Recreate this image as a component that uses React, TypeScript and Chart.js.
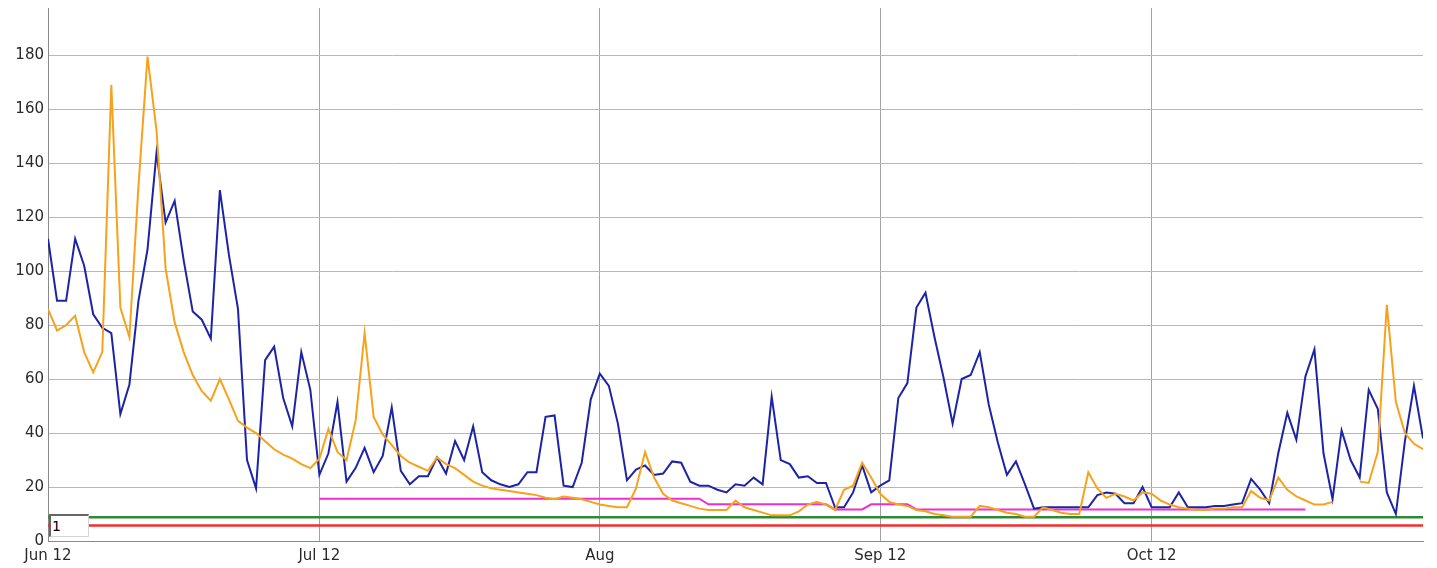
import React, { useEffect, useRef } from "react";
import { Chart, registerables } from "chart.js";

Chart.register(...registerables);

// x positions are day indices starting at Jun 12 (one point per day)
const xTickPositions = [0, 30, 61, 92, 122];
const xTickLabels = ["Jun 12", "Jul 12", "Aug", "Sep 12", "Oct 12"];
const yTickValues = [0, 20, 40, 60, 80, 100, 120, 140, 160, 180];

const blueSeries = [
  112, 89, 89, 112, 102, 84, 79, 77, 47, 58,
  89, 108, 144, 118, 126, 104, 85, 82, 75, 130,
  106, 86, 30, 19.5, 67, 72, 53, 42.5, 70, 56,
  24.5, 32.5, 51.5, 22, 27, 34.5, 25.5, 31.5, 49.5, 26,
  21, 24, 24, 31, 25, 37, 30, 42.5, 25.5, 22.5,
  21, 20, 21, 25.5, 25.5, 46, 46.5, 20.5, 20, 29,
  52.5, 62, 57.5, 43.5, 22.5, 26.5, 28, 24.5, 25, 29.5,
  29, 22, 20.5, 20.5, 19, 18, 21, 20.5, 23.5, 21,
  53.5, 30, 28.5, 23.5, 24, 21.5, 21.5, 12.5, 12.5, 18,
  28, 18, 20.5, 22.5, 53, 58.5, 86.5, 92, 75.5, 60.5,
  43.5, 60, 61.5, 70, 50.5, 36.5, 24.5, 29.5, 21, 12,
  12.5, 12.5, 12.5, 12.5, 12.5, 12.5, 17, 18, 17.5, 14,
  14, 20, 12.5, 12.5, 12.5, 18, 12.5, 12.5, 12.5, 13,
  13, 13.5, 14, 23, 19, 14, 32.5, 47.5, 37.5, 61,
  71, 32.5, 15.5, 41, 30, 23.5, 56, 49, 18, 10,
  37, 57.5, 38,
];

const orangeSeries: (number | null)[] = [
  86, 78, 80, 83.5, 70, 62.5, 70, 169, 86.5, 75.5,
  131.5, 179.5, 152, 101, 81, 70, 61.5, 55.5, 52, 60,
  52.5, 44.5, 42, 40, 37, 34, 32, 30.5, 28.5, 27,
  30.5, 41.5, 33, 30, 44.5, 77, 46, 39.5, 35.5, 31.5,
  29, 27.5, 26, 31, 28.5, 27, 24.5, 22, 20.5, 19.5,
  19, 18.5, 18, 17.5, 17, 16, 15.5, 16.5, 16, 15.5,
  14.5, 13.5, 13, 12.5, 12.5, 19.5, 33, 23.5, 17.5, 15,
  14, 13, 12, 11.5, 11.5, 11.5, 15, 12.5, 11.5, 10.5,
  9.5, 9.5, 9.5, 11, 13.5, 14.5, 13.5, 11.5, 19, 20.5,
  29, 23.5, 17.5, 14.5, 13.5, 13, 11.5, 11, 10, 9.5,
  9, 9, 9, 13, 12.5, 11.5, 10.5, 10, 9, 9,
  12.5, 11.5, 10.5, 10, 10, 25.5, 19.5, 16, 17.5, 16.5,
  15, 18, 17.5, 15, 13.5, 12.5, 12, 11.5, 11.5, 12,
  12, 12.5, 12.5, 18.5, 16, 15, 23.5, 19, 16.5, 15,
  13.5, 13.5, 14.5, null, null, 22, 21.5, 33, 87.5, 51.5,
  40, 36, 34,
];

// step-wise average line (null where not drawn)
const magentaSeries: (number | null)[] = [
  null, null, null, null, null, null, null, null, null, null,
  null, null, null, null, null, null, null, null, null, null,
  null, null, null, null, null, null, null, null, null, null,
  15.7, 15.7, 15.7, 15.7, 15.7, 15.7, 15.7, 15.7, 15.7, 15.7,
  15.7, 15.7, 15.7, 15.7, 15.7, 15.7, 15.7, 15.7, 15.7, 15.7,
  15.7, 15.7, 15.7, 15.7, 15.7, 15.7, 15.7, 15.7, 15.7, 15.7,
  15.7, 15.7, 15.7, 15.7, 15.7, 15.7, 15.7, 15.7, 15.7, 15.7,
  15.7, 15.7, 15.7, 13.6, 13.6, 13.6, 13.6, 13.6, 13.6, 13.6,
  13.6, 13.6, 13.6, 13.6, 13.6, 13.6, 13.6, 11.7, 11.7, 11.7,
  11.7, 13.6, 13.6, 13.6, 13.6, 13.6, 11.7, 11.7, 11.7, 11.7,
  11.7, 11.7, 11.7, 11.7, 11.7, 11.7, 11.7, 11.7, 11.7, 11.7,
  11.7, 11.7, 11.7, 11.7, 11.7, 11.7, 11.7, 11.7, 11.7, 11.7,
  11.7, 11.7, 11.7, 11.7, 11.7, 11.7, 11.7, 11.7, 11.7, 11.7,
  11.7, 11.7, 11.7, 11.7, 11.7, 11.7, 11.7, 11.7, 11.7, 11.7,
  null, null, null, null, null, null, null, null, null, null,
  null, null, null,
];

const greenLevel = 8.8;
const redLevel = 5.7;

const toPoints = (arr: (number | null)[]) => arr.map((y, i) => ({ x: i, y }));
const constant = (v: number) => blueSeries.map((_, i) => ({ x: i, y: v }));

export default function App() {
  const ref = useRef<HTMLCanvasElement | null>(null);

  useEffect(() => {
    if (!ref.current) return;
    const font = { family: "'DejaVu Sans', Verdana, sans-serif", size: 15 };
    const chart = new Chart(ref.current, {
      type: "line",
      data: {
        datasets: [
          { label: "orange", data: toPoints(orangeSeries), borderColor: "#f7a21b", borderWidth: 2 },
          { label: "blue", data: toPoints(blueSeries), borderColor: "#1c24a6", borderWidth: 2 },
          { label: "magenta", data: toPoints(magentaSeries), borderColor: "#ee2fd0", borderWidth: 2 },
          { label: "green", data: constant(greenLevel), borderColor: "#2f8a35", borderWidth: 2.5 },
          { label: "red", data: constant(redLevel), borderColor: "#f52c2c", borderWidth: 2.5 },
        ] as any,
      },
      options: {
        animation: false,
        responsive: false,
        parsing: false as any,
        elements: { point: { radius: 0, hoverRadius: 0 }, line: { tension: 0, fill: false } },
        layout: { padding: { top: 8, right: 14, left: 0, bottom: 0 } },
        plugins: { legend: { display: false }, tooltip: { enabled: false }, title: { display: false } },
        events: [],
        scales: {
          x: {
            type: "linear",
            min: 0,
            max: blueSeries.length - 1,
            afterBuildTicks: (s: any) => {
              s.ticks = xTickPositions.map((v) => ({ value: v }));
            },
            afterFit: (s: any) => {
              s.height = 27;
              s.paddingLeft = 0;
              s.paddingRight = 0;
            },
            ticks: {
              autoSkip: false,
              maxRotation: 0,
              padding: 6,
              color: "#2a2a2a",
              font,
              callback: (v: any) => {
                const k = xTickPositions.indexOf(Number(v));
                return k >= 0 ? xTickLabels[k] : "";
              },
            },
            grid: { color: "#a3a3a3", lineWidth: 1, drawTicks: false },
            border: { color: "#8a8a8a", width: 1 },
          },
          y: {
            type: "linear",
            min: 0,
            max: 197.5,
            afterBuildTicks: (s: any) => {
              s.ticks = yTickValues.map((v) => ({ value: v }));
            },
            afterFit: (s: any) => {
              s.width = 48;
              s.paddingTop = 0;
              s.paddingBottom = 0;
            },
            ticks: { padding: 4, color: "#2a2a2a", font },
            grid: { color: "#b8b8b8", lineWidth: 1, drawTicks: false },
            border: { color: "#8a8a8a", width: 1 },
          },
        },
      } as any,
    });
    return () => chart.destroy();
  }, []);

  return (
    <div style={{ position: "absolute", left: 0, top: 0, width: 1437, height: 568, background: "#fff" }}>
      <canvas ref={ref} width={1437} height={568} style={{ display: "block" }} />
      <div
        style={{
          position: "absolute",
          left: 49,
          top: 514,
          width: 40,
          height: 23,
          boxSizing: "border-box",
          background: "#fff",
          borderTop: "2px solid #666",
          borderLeft: "2px solid #666",
          borderRight: "1px solid #d4d4d4",
          borderBottom: "1px solid #d4d4d4",
          fontFamily: "'DejaVu Sans', Verdana, sans-serif",
          fontSize: 14,
          lineHeight: "20px",
          paddingLeft: 1,
          color: "#000",
        }}
      >
        1
      </div>
    </div>
  );
}
